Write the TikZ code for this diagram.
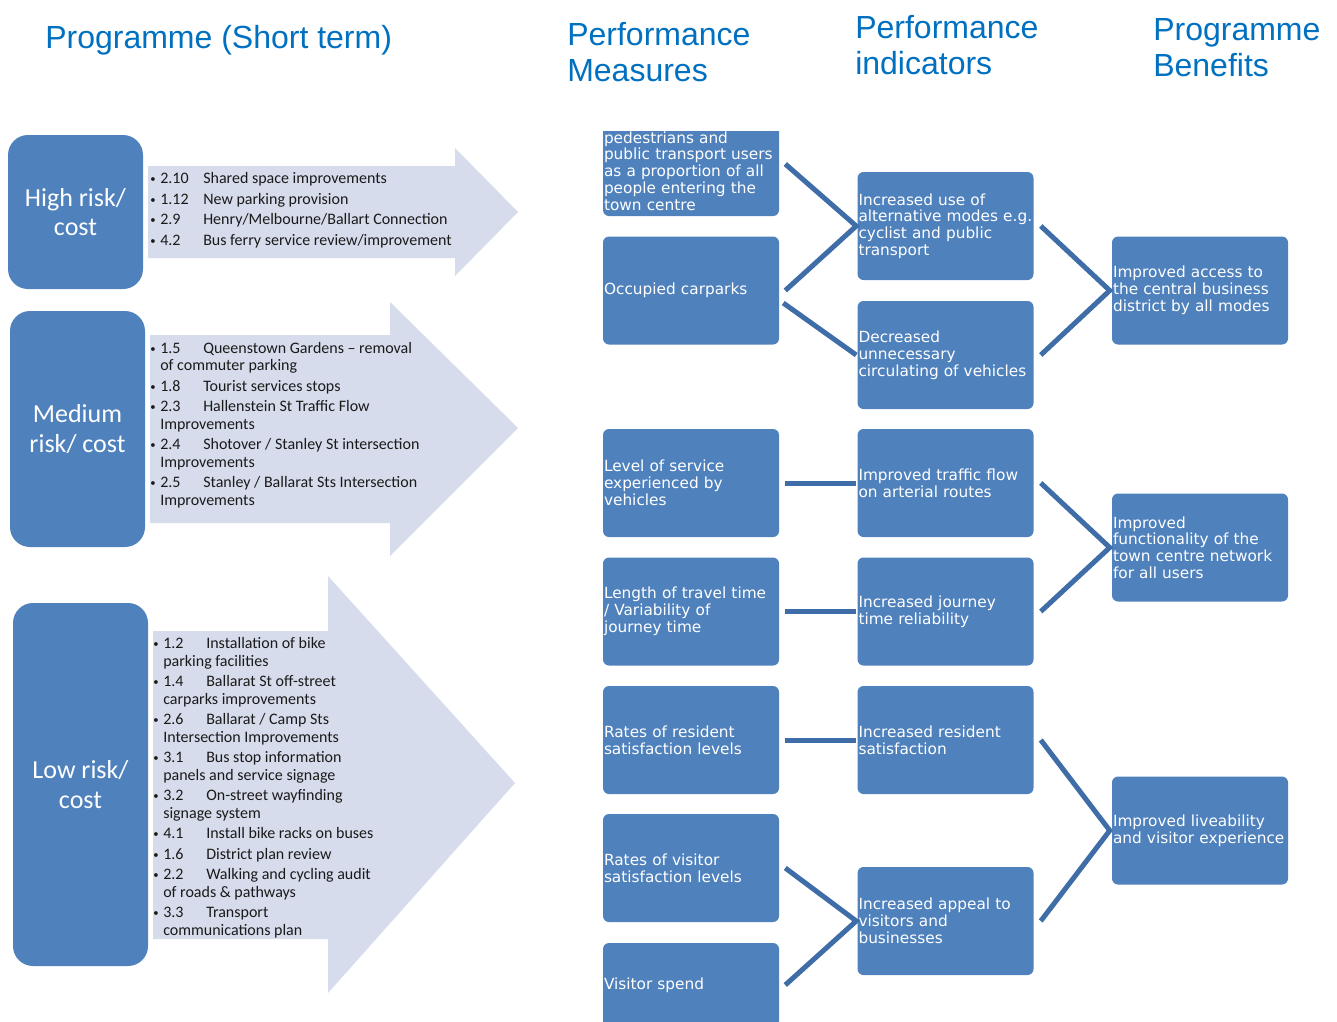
\documentclass[tikz,border=0pt]{standalone}
\usepackage{fontspec}
\newfontfamily\carlito{Carlito}
\newfontfamily\dejavu{DejaVu Sans}
\newfontfamily\arialf{Liberation Sans}
\definecolor{boxblue}{HTML}{4F81BD}
\definecolor{arrowfill}{HTML}{D6DCEB}
\definecolor{connblue}{HTML}{3F6DA7}
\definecolor{titleblue}{HTML}{0070C0}
\definecolor{itemtext}{HTML}{1A1A1A}
\newcommand\bul{\makebox[7.5pt][l]{\raisebox{0.6pt}{\fontsize{8}{8}\selectfont\textbullet}}}
\newcommand\num[1]{\makebox[32.25pt][l]{#1}}
\begin{document}
\begin{tikzpicture}[x=0.75pt,y=-0.75pt,
  ttl/.style={anchor=base west,inner sep=0,text=titleblue,font=\arialf\fontsize{24}{28}\selectfont},
  lbox/.style={rectangle,rounded corners=15pt,fill=boxblue,text=white,align=center,inner sep=0,
    minimum width=101.25pt,font=\carlito\fontsize{19.5}{22}\selectfont},
  itm/.style={anchor=west,inner sep=0,text=itemtext,text height=7.8pt,text depth=0pt,
    font=\carlito\fontsize{12}{14}\selectfont},
  rtext/.style={text=white,text width=130.5pt,inner xsep=0.75pt,inner ysep=0,align=left,
    font=\dejavu\fontsize{11.5}{12.6}\selectfont},
  rbox/.style={rtext,rectangle,rounded corners=4.5pt,fill=boxblue,minimum height=81pt},
  arr/.style={fill=arrowfill},
  conn/.style={draw=connblue,line width=3.75pt,line join=miter}]
\clip (0,0) rectangle (1337,1021);
\fill[white] (0,0) rectangle (1337,1021);

% titles
\node[ttl] (t1) at (45,48) {Programme (Short term)};
\node[ttl] (t2a) at (567,45) {Performance};
\node[ttl] (t2b) at (567,81) {Measures};
\node[ttl] (t3a) at (855,38) {Performance};
\node[ttl] (t3b) at (855,74) {indicators};
\node[ttl] (t4a) at (1153,40) {Programme};
\node[ttl] (t4b) at (1153,76) {Benefits};

% arrows
\path[arr] (148,166) -- (455,166) -- (455,148) -- (518,212) -- (455,276) -- (455,258) -- (148,258) -- cycle;
\path[arr] (150,335) -- (390,335) -- (390,302) -- (518,428) -- (390,556) -- (390,523) -- (150,523) -- cycle;
\path[arr] (153,631) -- (328,631) -- (328,576) -- (515,783) -- (328,993) -- (328,939) -- (153,939) -- cycle;

% left boxes
\node[lbox,minimum height=115.5pt] (hb) at (75.5,212) {High risk/\\cost};
\node[lbox,minimum height=177pt] (mb) at (77.5,429) {Medium\\risk/ cost};
\node[lbox,minimum height=272.25pt] (lb) at (80.5,784.5) {Low risk/\\cost};

% arrow 1 items
\node[itm] (a11) at (150,178) {\bul\num{2.10}Shared space improvements};
\node[itm] (a12) at (150,199) {\bul\num{1.12}New parking provision};
\node[itm] (a13) at (150,219) {\bul\num{2.9}Henry/Melbourne/Ballart Connection};
\node[itm] (a14) at (150,240) {\bul\num{4.2}Bus ferry service review/improvement};

% arrow 2 items
\node[itm] (a21) at (150,348) {\bul\num{1.5}Queenstown Gardens – removal};
\node[itm] (a21b) at (160,365) {of commuter parking};
\node[itm] (a22) at (150,386) {\bul\num{1.8}Tourist services stops};
\node[itm] (a23) at (150,406) {\bul\num{2.3}Hallenstein St Traffic Flow};
\node[itm] (a23b) at (160,424) {Improvements};
\node[itm] (a24) at (150,444) {\bul\num{2.4}Shotover / Stanley St intersection};
\node[itm] (a24b) at (160,462) {Improvements};
\node[itm] (a25) at (150,482) {\bul\num{2.5}Stanley / Ballarat Sts Intersection};
\node[itm] (a25b) at (160,500) {Improvements};

% arrow 3 items
\node[itm] (a31) at (153,643) {\bul\num{1.2}Installation of bike};
\node[itm] (a31b) at (163,661) {parking facilities};
\node[itm] (a32) at (153,681) {\bul\num{1.4}Ballarat St off-street};
\node[itm] (a32b) at (163,699) {carparks improvements};
\node[itm] (a33) at (153,719) {\bul\num{2.6}Ballarat / Camp Sts};
\node[itm] (a33b) at (163,737) {Intersection Improvements};
\node[itm] (a34) at (153,757) {\bul\num{3.1}Bus stop information};
\node[itm] (a34b) at (163,775) {panels and service signage};
\node[itm] (a35) at (153,795) {\bul\num{3.2}On-street wayfinding};
\node[itm] (a35b) at (163,813) {signage system};
\node[itm] (a36) at (153,833) {\bul\num{4.1}Install bike racks on buses};
\node[itm] (a37) at (153,854) {\bul\num{1.6}District plan review};
\node[itm] (a38) at (153,874) {\bul\num{2.2}Walking and cycling audit};
\node[itm] (a38b) at (163,892) {of roads \& pathways};
\node[itm] (a39) at (153,912) {\bul\num{3.3}Transport};
\node[itm] (a39b) at (163,930) {communications plan};

% performance measures
\begin{scope}
\clip (590,131) rectangle (800,240);
\node[rbox,minimum height=78pt] (pm1) at (691,164) {};
\node[rtext] (pm1t) at (691,171) {pedestrians and\\public transport users\\as a proportion of all\\people entering the\\town centre};
\end{scope}
\node[rbox] (pm2) at (691,290.5) {Occupied carparks};
\node[rbox] (pm3) at (691,483) {Level of service\\experienced by\\vehicles};
\node[rbox] (pm4) at (691,611.5) {Length of travel time\\/ Variability of\\journey time};
\node[rbox] (pm5) at (691,740) {Rates of resident\\satisfaction levels};
\node[rbox] (pm6) at (691,868) {Rates of visitor\\satisfaction levels};
\node[rbox,minimum height=63pt] (pm7) at (691,985) {Visitor spend};

% performance indicators
\node[rbox] (pi1) at (945.5,226) {Increased use of\\alternative modes e.g.\\cyclist and public\\transport};
\node[rbox] (pi2) at (945.5,355) {Decreased\\unnecessary\\circulating of vehicles};
\node[rbox] (pi3) at (945.5,483) {Improved traffic flow\\on arterial routes};
\node[rbox] (pi4) at (945.5,611.5) {Increased journey\\time reliability};
\node[rbox] (pi5) at (945.5,740) {Increased resident\\satisfaction};
\node[rbox] (pi6) at (945.5,921) {Increased appeal to\\visitors and\\businesses};

% programme benefits
\node[rbox] (pb1) at (1200,290.5) {Improved access to\\the central business\\district by all modes};
\node[rbox] (pb2) at (1200,547.5) {Improved\\functionality of the\\town centre network\\for all users};
\node[rbox] (pb3) at (1200,830.5) {Improved liveability\\and visitor experience};

% connectors
\draw[conn] ([xshift=4.5pt]pm1.east) -- ([xshift=-0.75pt]pi1.west) -- ([xshift=4.5pt]pm2.east);
\draw[conn] ([xshift=3pt,yshift=-9.4pt]pm2.east) -- ([xshift=-0.75pt]pi2.west);
\draw[conn] ([xshift=4.5pt]pm3.east) -- ([xshift=-0.75pt]pi3.west);
\draw[conn] ([xshift=4.5pt]pm4.east) -- ([xshift=-0.75pt]pi4.west);
\draw[conn] ([xshift=4.5pt]pm5.east) -- ([xshift=-0.75pt]pi5.west);
\draw[conn] ([xshift=4.5pt]pm6.east) -- ([xshift=-0.75pt]pi6.west) -- ([xshift=4.5pt]pm7.east);
\draw[conn] ([xshift=5.25pt]pi1.east) -- ([xshift=-1.5pt]pb1.west) -- ([xshift=5.25pt]pi2.east);
\draw[conn] ([xshift=5.25pt]pi3.east) -- ([xshift=-1.5pt]pb2.west) -- ([xshift=5.25pt]pi4.east);
\draw[conn] ([xshift=5.25pt]pi5.east) -- ([xshift=-1.5pt]pb3.west) -- ([xshift=5.25pt]pi6.east);
\end{tikzpicture}
\end{document}
